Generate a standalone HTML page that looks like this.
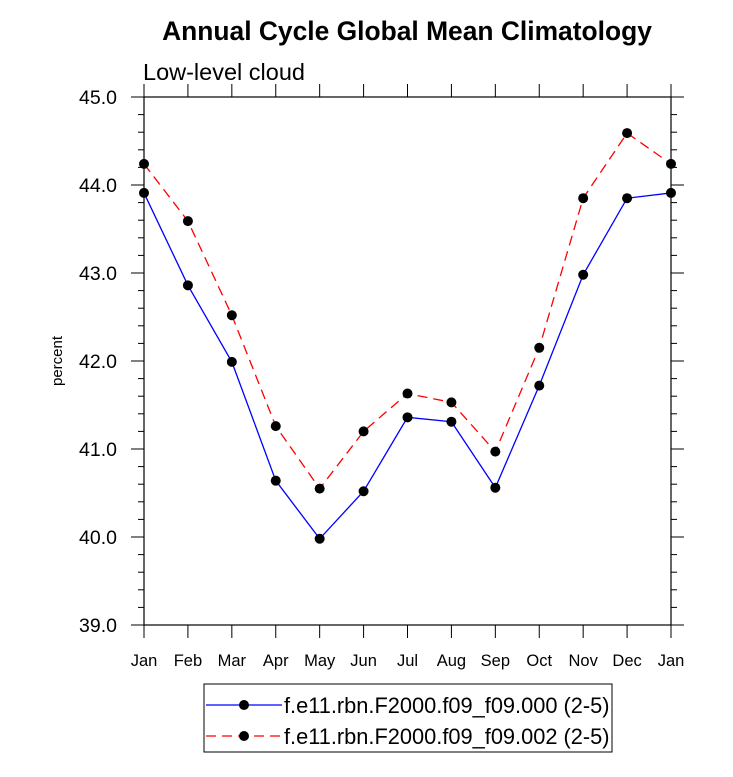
<!DOCTYPE html>
<html><head><meta charset="utf-8"><style>
body{margin:0;background:#fff;}
svg{display:block;font-family:"Liberation Sans",sans-serif;}
</style></head><body>
<svg id="chart" width="733" height="777">
<text x="407" y="40" text-anchor="middle" font-size="26.4" font-weight="bold">Annual Cycle Global Mean Climatology</text>
<text x="143" y="80" font-size="23.5">Low-level cloud</text>
<text transform="translate(62,361) rotate(-90)" text-anchor="middle" font-size="15">percent</text>
<g id="axes"></g>
<g id="series"></g>
<g>
<rect x="204" y="684" width="408" height="68" fill="none" stroke="#000" stroke-width="1"/>
<line x1="206" y1="705" x2="282" y2="705" stroke="#0000ff" stroke-width="1.2"/>
<circle cx="244" cy="705" r="5" fill="#000"/>
<text x="284" y="713" font-size="21.8">f.e11.rbn.F2000.f09_f09.000 (2-5)</text>
<line x1="206" y1="736" x2="282" y2="736" stroke="#ff0000" stroke-width="1.2" stroke-dasharray="10,6"/>
<circle cx="244" cy="736" r="5" fill="#000"/>
<text x="284" y="744" font-size="21.8">f.e11.rbn.F2000.f09_f09.002 (2-5)</text>
</g>
</svg>
<script>
const months = ["Jan","Feb","Mar","Apr","May","Jun","Jul","Aug","Sep","Oct","Nov","Dec","Jan"];
const series000 = [43.91,42.86,41.99,40.64,39.98,40.52,41.36,41.31,40.56,41.72,42.98,43.85,43.91];
const series002 = [44.24,43.59,42.52,41.26,40.55,41.20,41.63,41.53,40.97,42.15,43.85,44.59,44.24];
const yTicks = ["39.0","40.0","41.0","42.0","43.0","44.0","45.0"];
const NS="http://www.w3.org/2000/svg";
const L=144,R=671,T=97,B=625,YMIN=39,YMAX=45;
const xs=i=>L+(R-L)*i/(months.length-1);
const ys=v=>B-(v-YMIN)/(YMAX-YMIN)*(B-T);
function mk(tag,attrs,parent){const e=document.createElementNS(NS,tag);for(const k in attrs)e.setAttribute(k,attrs[k]);parent.appendChild(e);return e;}
const ax=document.getElementById('axes');
const frame=mk('rect',{x:L,y:T,width:R-L,height:B-T,fill:'none',stroke:'#000','stroke-width':1.2},ax);


for(let v=YMIN;v<=YMAX+1e-9;v+=0.2){
  const y=ys(v);const major=Math.abs(v-Math.round(v))<1e-6;const len=major?13:6;
  mk('line',{x1:L,y1:y,x2:L-len,y2:y,stroke:'#000'},ax);
  mk('line',{x1:R,y1:y,x2:R+len,y2:y,stroke:'#000'},ax);
}
yTicks.forEach(t=>{
  const tx=mk('text',{x:117,y:ys(parseFloat(t))+7,'text-anchor':'end','font-size':19.5},ax);
  tx.textContent=t;
  
  
});
months.forEach((m,i)=>{
  const x=xs(i);
  mk('line',{x1:x,y1:B,x2:x,y2:B+13,stroke:'#000'},ax);
  mk('line',{x1:x,y1:T,x2:x,y2:T-13,stroke:'#000'},ax);
  const tx=mk('text',{x:x,y:666,'text-anchor':'middle','font-size':16.5},ax);
  tx.textContent=m;
  
  
});
const sg=document.getElementById('series');
function draw(vals,color,dash,name){
  const pts=vals.map((v,i)=>xs(i)+','+ys(v)).join(' ');
  const pl=mk('polyline',{points:pts,fill:'none',stroke:color,'stroke-width':1.3,'stroke-dasharray':dash},sg);
  
  
  vals.forEach((v,i)=>{
    const c=mk('circle',{cx:xs(i),cy:ys(v),r:5,fill:'#000'},sg);
    
    
  });
}
draw(series000,'#0000ff','none','series-000');
draw(series002,'#ff0000','10,6','series-002');
</script>
</body></html>
